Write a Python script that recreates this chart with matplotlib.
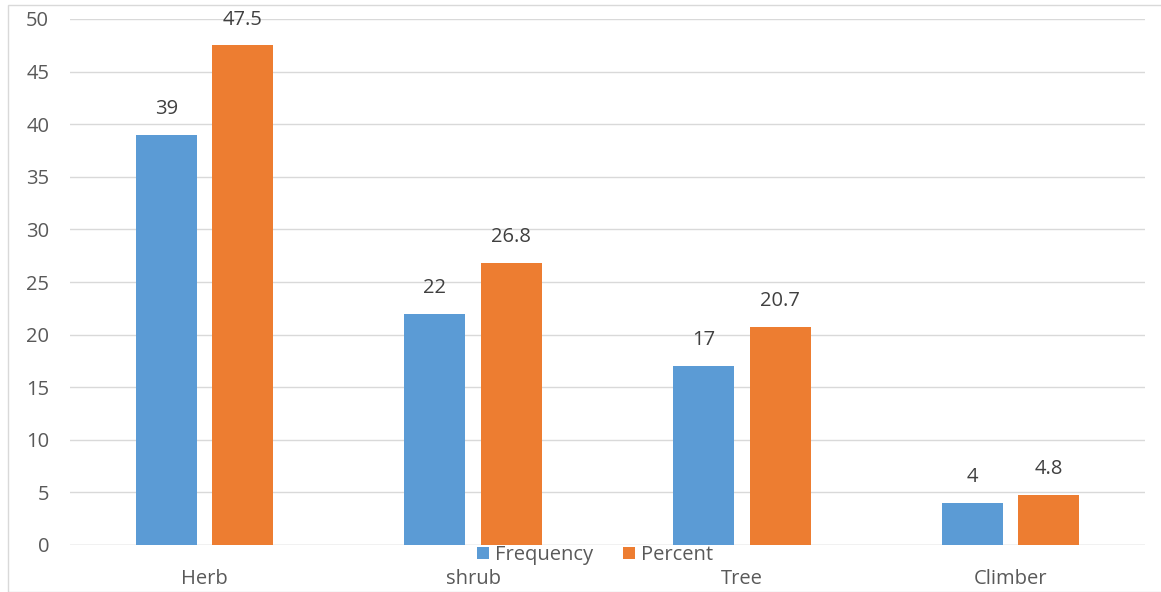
import matplotlib
matplotlib.use("Agg")
import matplotlib.pyplot as plt
import numpy as np
from matplotlib.patches import Rectangle

plt.rcParams.update({"font.family": ["Open Sans", "DejaVu Sans"], "font.size": 14.5})

cats = ["Herb", "shrub", "Tree", "Climber"]
freq = [39, 22, 17, 4]
pct = [47.5, 26.8, 20.7, 4.8]
freq_lbl = ["39", "22", "17", "4"]
pct_lbl = ["47.5", "26.8", "20.7", "4.8"]

BLUE, ORANGE, TXT, GRID = "#5B9BD5", "#ED7D31", "#595959", "#D9D9D9"

fig = plt.figure(figsize=(11.61, 5.92), dpi=100)
ax = fig.add_axes([70 / 1161, 1 - 545 / 592, 1075 / 1161, 526 / 592])
# thin frame around the whole chart area
fig.patches.append(Rectangle((8 / 1161, 0), 1, 1 - 5 / 592, transform=fig.transFigure,
                             fill=False, ec="#D9D9D9", lw=1))

x = np.arange(len(cats))
w, off = 0.227, 0.142
b1 = ax.bar(x - off, freq, w, color=BLUE, label="Frequency", zorder=3)
b2 = ax.bar(x + off, pct, w, color=ORANGE, label="Percent", zorder=3)
for bars, labs in [(b1, freq_lbl), (b2, pct_lbl)]:
    for r, s in zip(bars, labs):
        ax.text(r.get_x() + r.get_width() / 2, r.get_height() + 1.5, s,
                ha="center", va="bottom", color="#404040", fontsize=14.5)

ax.set_xlim(-0.5, 3.5)
ax.set_ylim(0, 50)
ax.set_yticks(range(0, 51, 5))
ax.set_xticks(x)
ax.set_xticklabels(cats)
ax.tick_params(length=0, colors=TXT, labelsize=14.5)
ax.tick_params(axis="y", pad=15)
ax.tick_params(axis="x", pad=17)
ax.grid(axis="y", color=GRID, lw=1, zorder=0)
for s in ax.spines.values():
    s.set_visible(False)
ax.axhline(0, color=GRID, lw=1, zorder=1)

ax.legend(loc="center", bbox_to_anchor=(595 / 1161, 1 - 555 / 592),
          bbox_transform=fig.transFigure, ncol=2, frameon=False,
          handlelength=0.6, handleheight=0.6, handletextpad=0.3,
          columnspacing=1.5, labelcolor=TXT, fontsize=14.5)

fig.savefig("out.png", dpi=100)
